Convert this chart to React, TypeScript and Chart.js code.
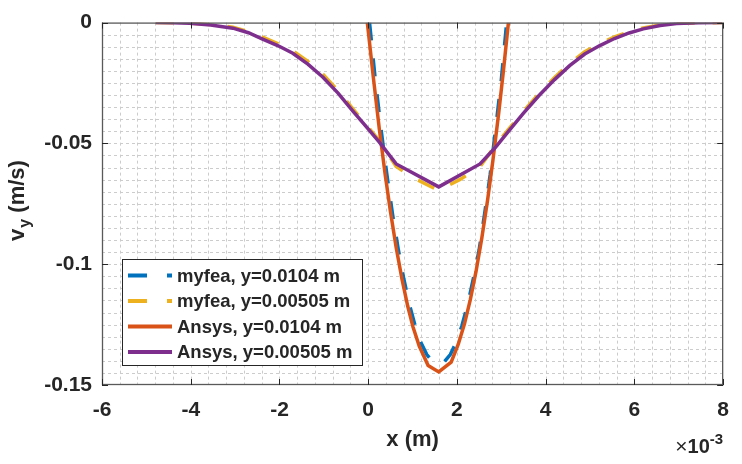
import React, { useEffect, useRef } from 'react';
import { Chart, registerables } from 'chart.js';

Chart.register(...registerables);

// ---------- data (x in units of 1e-3 m, v in m/s) ----------
const myfeaHighX = [0.03, 0.16, 0.29, 0.42, 0.55, 0.68, 0.80, 0.93, 1.06, 1.19, 1.32, 1.45, 1.59, 1.72, 1.85, 1.98, 2.11, 2.24, 2.37, 2.50, 2.62, 2.75, 2.87, 3.00, 3.12];
const myfeaHighV = [0, -0.0236, -0.0442, -0.0628, -0.0795, -0.0941, -0.1059, -0.1168, -0.1256, -0.1325, -0.1374, -0.1403, -0.1412, -0.1403, -0.1374, -0.1325, -0.1256, -0.1168, -0.1059, -0.0941, -0.0795, -0.0628, -0.0442, -0.0236, 0];

const myfeaLowX = [-4.79, -4.40, -4.03, -3.55, -3.05, -2.70, -2.38, -2.04, -1.70, -1.36, -1.02, -0.68, -0.35, -0.05, 0.25, 0.63, 1.10, 1.59, 2.06, 2.52, 2.85, 3.17, 3.50, 3.85, 4.20, 4.54, 4.88, 5.22, 5.55, 5.88, 6.20, 6.58, 6.95, 7.45, 7.98];
const myfeaLowV = [0, -0.0001, -0.0002, -0.0008, -0.0019, -0.0037, -0.0060, -0.0087, -0.0117, -0.0161, -0.0214, -0.0282, -0.0356, -0.0422, -0.0488, -0.0596, -0.0650, -0.0695, -0.0650, -0.0596, -0.0513, -0.0440, -0.0367, -0.0294, -0.0227, -0.0170, -0.0121, -0.0087, -0.0059, -0.0038, -0.0022, -0.0010, -0.0003, -0.0001, 0];

const ansysHighX = [-0.02, 0.12, 0.25, 0.38, 0.50, 0.63, 0.76, 0.89, 1.01, 1.15, 1.35, 1.59, 1.87, 2.03, 2.17, 2.30, 2.43, 2.56, 2.69, 2.81, 2.94, 3.05, 3.16];
const ansysHighV = [0, -0.0234, -0.0440, -0.0626, -0.0781, -0.0931, -0.1061, -0.1173, -0.1260, -0.1339, -0.1419, -0.1446, -0.1405, -0.1331, -0.1247, -0.1148, -0.1030, -0.0892, -0.0735, -0.0571, -0.0376, -0.0195, 0];

const ansysLowX = [-4.79, -4.40, -4.03, -3.55, -3.05, -2.70, -2.38, -2.04, -1.70, -1.36, -1.02, -0.68, -0.35, -0.05, 0.25, 0.63, 1.59, 2.52, 2.85, 3.17, 3.50, 3.85, 4.20, 4.54, 4.88, 5.22, 5.55, 5.88, 6.20, 6.58, 6.95, 7.45, 7.98];
const ansysLowV = [0, -0.0001, -0.0003, -0.0010, -0.0023, -0.0042, -0.0068, -0.0095, -0.0127, -0.0172, -0.0226, -0.0292, -0.0365, -0.0430, -0.0495, -0.0585, -0.0680, -0.0585, -0.0520, -0.0448, -0.0375, -0.0302, -0.0236, -0.0178, -0.0130, -0.0095, -0.0066, -0.0043, -0.0026, -0.0012, -0.0004, -0.0001, 0];

const seriesNames = ['myfea, y=0.0104 m', 'myfea, y=0.00505 m', 'Ansys, y=0.0104 m', 'Ansys, y=0.00505 m'];
const seriesColors = ['#0072BD', '#EDB120', '#D95319', '#7E2F8E'];
const seriesDashed = [true, true, false, false];

const xMajorTicks = [-6, -4, -2, 0, 2, 4, 6, 8];
const xMajorLabels = ['-6', '-4', '-2', '0', '2', '4', '6', '8'];
const yMajorTicks = [0, -0.05, -0.1, -0.15];
const yMajorLabels = ['0', '-0.05', '-0.1', '-0.15'];

const TEXT = '#262626';
const FONT_FAMILY = '"Liberation Sans", Arial, Helvetica, sans-serif';

const findMajor = (v: number, ticks: number[]) =>
  ticks.findIndex((t) => Math.abs(t - v) < 1e-9);

const toPoints = (xs: number[], vs: number[]) => xs.map((x, i) => ({ x, y: vs[i] }));

const matlabPlugin = {
  id: 'matlabDecor',
  beforeDatasetsDraw(chart: any) {
    const { ctx, chartArea: a, scales } = chart;
    const xs = scales.x;
    const ys = scales.y;
    ctx.save();
    ctx.strokeStyle = '#cccccc';
    ctx.lineWidth = 1;
    ctx.setLineDash([3, 3]);
    xs.ticks.forEach((t: any) => {
      const px = Math.round(xs.getPixelForValue(t.value)) + 0.5;
      if (px <= a.left + 1 || px >= a.right - 1) return;
      ctx.beginPath();
      ctx.moveTo(px, a.top);
      ctx.lineTo(px, a.bottom);
      ctx.stroke();
    });
    ys.ticks.forEach((t: any) => {
      const py = Math.round(ys.getPixelForValue(t.value)) + 0.5;
      if (py <= a.top + 1 || py >= a.bottom - 1) return;
      ctx.beginPath();
      ctx.moveTo(a.left, py);
      ctx.lineTo(a.right, py);
      ctx.stroke();
    });
    ctx.restore();
  },
  afterDatasetsDraw(chart: any) {
    const { ctx, chartArea: a, scales } = chart;
    const xs = scales.x;
    const ys = scales.y;
    ctx.save();
    ctx.setLineDash([]);
    ctx.strokeStyle = '#595959';
    ctx.lineWidth = 1.3;
    ctx.strokeRect(a.left + 0.5, a.top + 0.5, a.right - a.left - 1, a.bottom - a.top - 1);
    const tl = 6;
    ctx.strokeStyle = '#262626';
    ctx.lineWidth = 1;
    ctx.beginPath();
    xMajorTicks.forEach((v) => {
      const px = Math.round(xs.getPixelForValue(v)) + 0.5;
      ctx.moveTo(px, a.bottom);
      ctx.lineTo(px, a.bottom - tl);
      ctx.moveTo(px, a.top);
      ctx.lineTo(px, a.top + tl);
    });
    yMajorTicks.forEach((v) => {
      const py = Math.round(ys.getPixelForValue(v)) + 0.5;
      ctx.moveTo(a.left, py);
      ctx.lineTo(a.left + tl, py);
      ctx.moveTo(a.right, py);
      ctx.lineTo(a.right - tl, py);
    });
    ctx.stroke();

    // legend
    const lx = 122, ly = 259, lw = 240, lh = 106;
    ctx.fillStyle = '#ffffff';
    ctx.fillRect(lx, ly, lw, lh);
    ctx.strokeStyle = '#262626';
    ctx.lineWidth = 1;
    ctx.strokeRect(lx + 0.5, ly + 0.5, lw, lh);
    ctx.font = `bold 18.5px ${FONT_FAMILY}`;
    ctx.textBaseline = 'middle';
    ctx.textAlign = 'left';
    seriesNames.forEach((name, i) => {
      const cy = 275.5 + i * 25.5;
      ctx.strokeStyle = seriesColors[i];
      ctx.lineWidth = 4;
      ctx.setLineDash(seriesDashed[i] ? [19, 20] : []);
      ctx.beginPath();
      ctx.moveTo(128, cy);
      ctx.lineTo(172, cy);
      ctx.stroke();
      ctx.setLineDash([]);
      ctx.fillStyle = TEXT;
      ctx.fillText(name, 177, cy + 1);
    });
    ctx.restore();
  },
  afterDraw(chart: any) {
    const { ctx, chartArea: a } = chart;
    ctx.save();
    ctx.fillStyle = TEXT;
    // x title
    ctx.font = `bold 22px ${FONT_FAMILY}`;
    ctx.textAlign = 'center';
    ctx.textBaseline = 'middle';
    ctx.fillText('x (m)', (a.left + a.right) / 2, 440);

    // exponent
    ctx.textAlign = 'left';
    ctx.textBaseline = 'alphabetic';
    const big = `bold 20px ${FONT_FAMILY}`;
    const sup = `bold 15px ${FONT_FAMILY}`;
    const timesF = `21px ${FONT_FAMILY}`;
    ctx.font = timesF; const wT = ctx.measureText('\u00d7').width;
    ctx.font = big; const w10 = ctx.measureText('10').width;
    ctx.font = sup; const w3 = ctx.measureText('-3').width;
    let ex = a.right - (wT + w10 + w3);
    ctx.font = timesF; ctx.fillText('\u00d7', ex, 453); ex += wT;
    ctx.font = big; ctx.fillText('10', ex, 453); ex += w10;
    ctx.font = sup; ctx.fillText('-3', ex, 444);

    // y title with subscript
    ctx.translate(24, 201);
    ctx.rotate(-Math.PI / 2);
    const yb = `bold 22px ${FONT_FAMILY}`;
    const ysF = `bold 16px ${FONT_FAMILY}`;
    ctx.font = yb; const wv = ctx.measureText('v').width;
    ctx.font = ysF; const wy = ctx.measureText('y').width;
    ctx.font = yb; const wr = ctx.measureText(' (m/s)').width;
    let x0 = -(wv + wy + wr) / 2;
    ctx.font = yb; ctx.fillText('v', x0, 0); x0 += wv;
    ctx.font = ysF; ctx.fillText('y', x0 + 1, 6); x0 += wy + 1;
    ctx.font = yb; ctx.fillText(' (m/s)', x0, 0);
    ctx.restore();
  },
};

export default function App() {
  const ref = useRef<HTMLCanvasElement | null>(null);
  useEffect(() => {
    if (!ref.current) return;
    const xsArr = [myfeaHighX, myfeaLowX, ansysHighX, ansysLowX];
    const vsArr = [myfeaHighV, myfeaLowV, ansysHighV, ansysLowV];
    const datasets = seriesNames.map((name, i) => ({
      label: name,
      data: toPoints(xsArr[i], vsArr[i]),
      borderColor: seriesColors[i],
      backgroundColor: seriesColors[i],
      borderWidth: 3.5,
      borderDash: seriesDashed[i] ? [18, 18] : [],
      pointRadius: 0,
      showLine: true,
      fill: false,
      tension: 0,
      order: 4 - i,
    }));
    const chart = new Chart(ref.current, {
      type: 'scatter',
      data: { datasets },
      options: {
        animation: false,
        responsive: false,
        maintainAspectRatio: false,
        layout: { padding: { top: 16, right: 18, left: 0, bottom: 0 } },
        plugins: { legend: { display: false }, tooltip: { enabled: false } },
        scales: {
          x: {
            type: 'linear',
            min: -6,
            max: 8,
            afterFit: (s: any) => { s.height = 79; },
            grid: { display: false, drawTicks: false },
            border: { display: false },
            ticks: {
              stepSize: 0.4,
              autoSkip: false,
              maxRotation: 0,
              minRotation: 0,
              maxTicksLimit: 100,
              padding: 13,
              color: TEXT,
              font: { family: FONT_FAMILY, size: 21, weight: 'bold' },
              callback: (v: any) => {
                const k = findMajor(Number(v), xMajorTicks);
                return k >= 0 ? xMajorLabels[k] : '';
              },
            },
          },
          y: {
            type: 'linear',
            min: -0.15,
            max: 0,
            afterFit: (s: any) => { s.width = 102; },
            grid: { display: false, drawTicks: false },
            border: { display: false },
            ticks: {
              stepSize: 0.005,
              autoSkip: false,
              maxTicksLimit: 100,
              padding: 10,
              color: TEXT,
              font: { family: FONT_FAMILY, size: 21, weight: 'bold' },
              callback: (v: any) => {
                const k = findMajor(Number(v), yMajorTicks);
                return k >= 0 ? yMajorLabels[k] : '';
              },
            },
          },
        },
      },
      plugins: [matlabPlugin],
    } as any);
    return () => chart.destroy();
  }, []);
  return (
    <div style={{ position: 'fixed', left: 0, top: 0, width: 742, height: 464, background: '#ffffff' }}>
      <canvas ref={ref} width={742} height={464} style={{ display: 'block', width: 742, height: 464 }} />
    </div>
  );
}
